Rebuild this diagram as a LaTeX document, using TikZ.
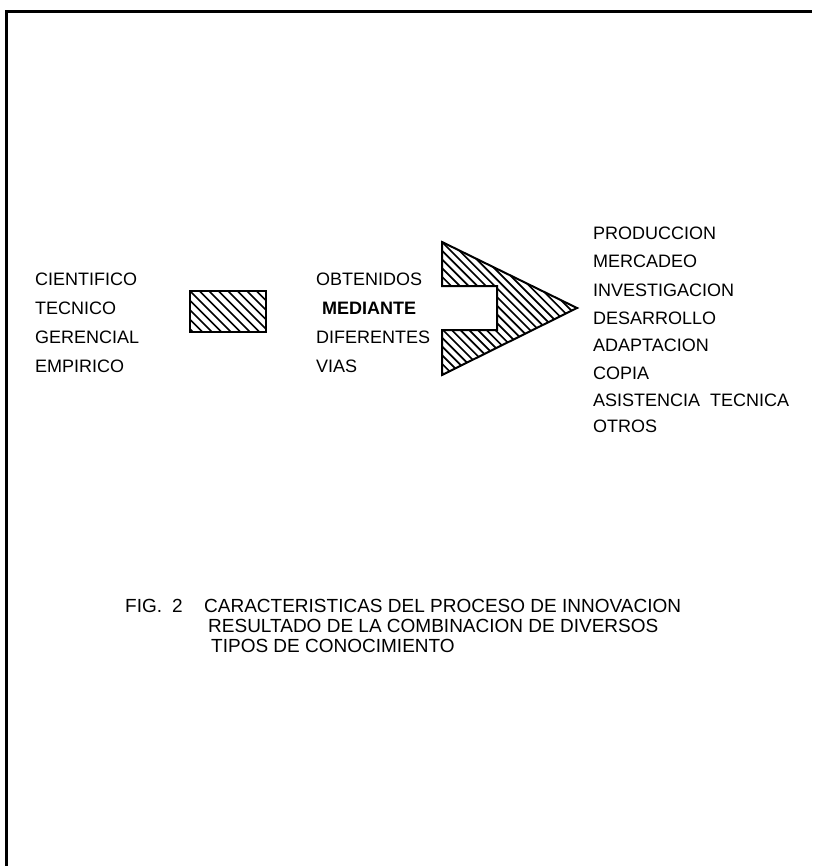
\documentclass[tikz,border=0pt]{standalone}
\usepackage{fontspec}
\setmainfont{Liberation Sans}
\tikzset{
    word/.style = {anchor=base west, inner sep=0pt, font=\fontsize{18}{20}\selectfont},
    caption word/.style = {word, font=\fontsize{19}{20}\selectfont},
    outline/.style = {draw, line width=2pt, line join=miter},
    hatch line/.style = {line width=1.7pt},
}

\begin{document}
\begin{tikzpicture}[x=1pt, y=-1pt]
            \useasboundingbox (0, 0) rectangle (812, 866);
            \draw [line width=3pt] (6, 866) -- (6, 12) -- (812, 12);

            \node[word] (cien) at (35, 285) {CIENTIFICO};
            \node[word] (tecn) at (35, 314) {TECNICO};
            \node[word] (gere) at (35, 343) {GERENCIAL};
            \node[word] (empi) at (35, 372) {EMPIRICO};

            \begin{scope}
                \clip (190, 291) rectangle (266, 332);
                \foreach \i in {-5,...,9}
                    \draw [hatch line] (190 + \i*9.5, 291) -- ++(45, 45);
            \end{scope}
            \draw [outline] (190, 291) rectangle (266, 332);

            \node[word] (obte) at (316, 285) {OBTENIDOS};
            \node[word] (medi) at (322, 314) {\bfseries MEDIANTE};
            \node[word] (dife) at (316, 343) {DIFERENTES};
            \node[word] (vias) at (316, 372) {VIAS};

            \begin{scope}
                \clip (442, 242) -- (577, 308) -- (442, 375) -- (442, 330) -- (497, 330) -- (497, 286) -- (442, 286) -- cycle;
                \foreach \i in {-16,...,16}
                    \draw [hatch line] (442 + \i*8.7, 242) -- ++(135, 135);
            \end{scope}
            \draw [outline] (442, 242) -- (577, 308) -- (442, 375) -- (442, 330) -- (497, 330) -- (497, 286) -- (442, 286) -- cycle;

            \node[word] (prod) at (593, 240) {PRODUCCION};
            \node[word] (merc) at (593, 268) {MERCADEO};
            \node[word] (inve) at (593, 296) {INVESTIGACION};
            \node[word] (desa) at (593, 324) {DESARROLLO};
            \node[word] (adap) at (593, 351) {ADAPTACION};
            \node[word] (copi) at (593, 379) {COPIA};
            \node[word] (asis) at (593, 406) {ASISTENCIA\ \ TECNICA};
            \node[word] (otro) at (593, 432) {OTROS};

            \node[caption word] (fig) at (125, 612) {FIG.\hspace{10pt}2};
            \node[caption word] (cap1) at (204, 612) {CARACTERISTICAS DEL PROCESO DE INNOVACION};
            \node[caption word] (cap2) at (208, 632) {RESULTADO DE LA COMBINACION DE DIVERSOS};
            \node[caption word] (cap3) at (211, 652) {TIPOS DE CONOCIMIENTO};
        \end{tikzpicture}
\end{document}
